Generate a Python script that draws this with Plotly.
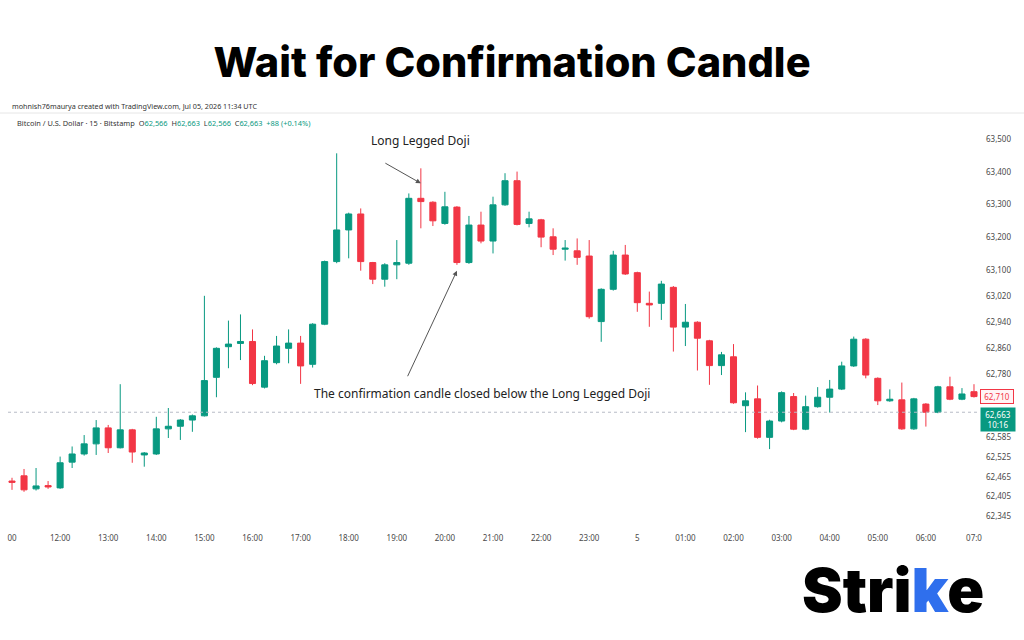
import plotly.graph_objects as go
import pandas as pd

# ---------------- data (BTC/USD 15-min, Bitstamp) ----------------
opens = [62452, 62468, 62428, 62438, 62431, 62510, 62535, 62566, 62615, 62554,
         62609, 62532, 62535, 62612, 62620, 62639, 62652, 62770, 62864, 62874,
         62880, 62740, 62815, 62859, 62875, 62810, 62933, 63125, 63222, 63271,
         63122, 63071, 63115, 63120, 63319, 63307, 63242, 63292, 63122, 63237,
         63188, 63299, 63373, 63242, 63253, 63201, 63163, 63158, 63142, 62941,
         63040, 63145, 63091, 62997, 62997, 63046, 62924, 62939, 62882, 62806,
         62833, 62683, 62704, 62586, 62636, 62711, 62611, 62680, 62709, 62734,
         62805, 62887, 62767, 62698, 62701, 62612, 62688, 62663, 62741, 62703,
         62726]
highs = [62462, 62489, 62492, 62452, 62527, 62558, 62593, 62639, 62624, 62749,
         62612, 62541, 62649, 62676, 62642, 62656, 63020, 62862, 62944, 62963,
         62917, 62836, 62897, 62917, 62897, 62936, 63128, 63457, 63275, 63288,
         63124, 63120, 63191, 63334, 63411, 63310, 63339, 63295, 63265, 63278,
         63324, 63396, 63401, 63278, 63256, 63227, 63191, 63196, 63191, 63043,
         63158, 63176, 63094, 63033, 63066, 63050, 62995, 62942, 62885, 62848,
         62872, 62724, 62745, 62640, 62727, 62722, 62714, 62740, 62762, 62818,
         62895, 62890, 62770, 62733, 62754, 62707, 62691, 62744, 62772, 62737,
         62749]
lows = [62425, 62419, 62423, 62428, 62428, 62492, 62530, 62532, 62538, 62552,
        62508, 62496, 62532, 62584, 62578, 62603, 62650, 62709, 62798, 62823,
        62746, 62736, 62810, 62813, 62750, 62800, 62930, 63120, 63135, 63097,
        63056, 63048, 63071, 63115, 63227, 63234, 63238, 63115, 63118, 63181,
        63150, 63296, 63236, 63230, 63169, 63145, 63128, 63115, 62950, 62879,
        63036, 63084, 62971, 62925, 62946, 62849, 62866, 62791, 62747, 62777,
        62689, 62602, 62582, 62550, 62632, 62608, 62608, 62677, 62662, 62731,
        62802, 62767, 62685, 62695, 62609, 62609, 62619, 62660, 62700, 62700,
        62708]
closes = [62448, 62425, 62437, 62434, 62508, 62535, 62566, 62615, 62554, 62609,
          62541, 62538, 62612, 62620, 62639, 62652, 62760, 62859, 62872, 62880,
          62751, 62821, 62866, 62875, 62805, 62933, 63125, 63222, 63271, 63125,
          63071, 63115, 63122, 63319, 63309, 63250, 63293, 63122, 63237, 63188,
          63299, 63373, 63239, 63256, 63200, 63163, 63166, 63138, 62956, 63040,
          63145, 63087, 62999, 62992, 63056, 62924, 62939, 62890, 62806, 62839,
          62692, 62698, 62586, 62636, 62723, 62611, 62680, 62709, 62734, 62805,
          62887, 62777, 62698, 62703, 62612, 62704, 62663, 62741, 62703, 62719,
          62711]
times = pd.date_range("2026-07-04 11:00", periods=len(opens), freq="15min")

tick_times = pd.date_range("2026-07-04 11:00", "2026-07-05 07:00", freq="1h")
tick_text = ["00", "12:00", "13:00", "14:00", "15:00", "16:00", "17:00", "18:00",
             "19:00", "20:00", "21:00", "22:00", "23:00", "5", "01:00", "02:00",
             "03:00", "04:00", "05:00", "06:00", "07:0"]

price_ticks = [63500, 63400, 63300, 63200, 63100, 63020, 62940, 62860, 62780,
               62585, 62525, 62465, 62405, 62345]
price_text = [f"{v:,}" for v in price_ticks]

last_price = 62710
current_price = 62663
countdown = "10:16"
doji_idx = 34
confirm_idx = 37

GREEN = "#089981"
RED = "#F23645"

# ---------------- layout helpers (pixel -> paper) ----------------
L, R, T, B = 8, 46, 130, 112
W, H = 1024, 640
PW, PH = W - L - R, H - T - B


def px(x):
    return (x - L) / PW


def py(y):
    return (H - B - y) / PH


fig = go.Figure()
fig.add_trace(go.Candlestick(
    x=times, open=opens, high=highs, low=lows, close=closes,
    increasing=dict(line=dict(color=GREEN, width=1), fillcolor=GREEN),
    decreasing=dict(line=dict(color=RED, width=1), fillcolor=RED),
    whiskerwidth=0, hoverinfo="skip", showlegend=False,
))

fig.update_layout(
    width=W, height=H, autosize=False,
    margin=dict(l=L, r=R, t=T, b=B),
    paper_bgcolor="white", plot_bgcolor="white",
    boxgap=0.28,
    showlegend=False,
    title=dict(text="Wait for Confirmation Candle", x=0.5, xref="container",
               xanchor="center", y=1 - 62 / H, yref="container", yanchor="middle",
               font=dict(family="Inter", size=41.5, color="#000000", weight=800)),
    xaxis=dict(type="date", range=["2026-07-04 10:55", "2026-07-05 07:05"],
               tickvals=tick_times, ticktext=tick_text, showgrid=False,
               zeroline=False, showline=False, ticks="", ticklabelstandoff=4,
               tickfont=dict(family="Noto Sans", size=8, color="#4a4a4a"),
               rangeslider=dict(visible=False), fixedrange=True),
    yaxis=dict(range=[62308, 63528.5], side="right", tickvals=price_ticks,
               ticktext=price_text, showgrid=False, zeroline=False,
               showline=False, ticks="", ticklabelstandoff=7,
               tickfont=dict(family="Noto Sans", size=8, color="#4a4a4a"),
               fixedrange=True),
)

# price line and panel separator
fig.add_shape(type="line", xref="paper", yref="y", x0=0, x1=1,
              y0=current_price, y1=current_price,
              line=dict(color="#b8bcc6", width=1, dash="dot"))
fig.add_shape(type="line", xref="paper", yref="paper", x0=px(0), x1=px(W),
              y0=py(113), y1=py(113), line=dict(color="#e6e6e6", width=1))

ann = []
# header texts
ann.append(dict(xref="paper", yref="paper", x=px(10), y=py(106), xanchor="left",
                yanchor="middle", showarrow=False,
                text="mohnish76maurya created with TradingView.com, Jul 05, 2026 11:34 UTC",
                font=dict(family="Noto Sans", size=7.2, color="#333333")))
g = lambda s: f"<span style='color:{GREEN}'>{s}</span>"
ann.append(dict(xref="paper", yref="paper", x=px(15), y=py(123), xanchor="left",
                yanchor="middle", showarrow=False,
                text=("Bitcoin / U.S. Dollar · 15 · Bitstamp  O" + g("62,566") +
                      "  H" + g("62,663") + "  L" + g("62,566") + "  C" + g("62,663") +
                      "  " + g("+88 (+0.14%)")),
                font=dict(family="Noto Sans", size=7.4, color="#333333")))

# price labels on the axis
ann.append(dict(xref="paper", yref="y", x=px(980), y=last_price, xanchor="left",
                yanchor="middle", showarrow=False, text=f"{last_price:,}",
                font=dict(family="Noto Sans", size=8, color=RED),
                bgcolor="#fff4f5", bordercolor=RED, borderwidth=1, borderpad=1,
                width=30))
ann.append(dict(xref="paper", yref="y", x=px(980), y=current_price, xanchor="left",
                yanchor="top", yshift=5, showarrow=False,
                text=f"{current_price:,}<br>{countdown}",
                font=dict(family="Noto Sans", size=8, color="white"),
                bgcolor=GREEN, borderpad=1, width=32))

# annotations with arrows
ann.append(dict(x=times[doji_idx], y=63495, xref="x", yref="y", showarrow=False,
                text="Long Legged Doji",
                font=dict(family="Noto Sans", size=12, color="#222222")))
ann.append(dict(x=times[doji_idx], y=63365, xref="x", yref="y", text="",
                showarrow=True, ax=-37, ay=-21, arrowhead=2, arrowsize=1,
                arrowwidth=1, arrowcolor="#555555"))
ann.append(dict(xref="paper", yref="y", x=px(482), y=62719, showarrow=False,
                text="The confirmation candle closed below the Long Legged Doji",
                font=dict(family="Noto Sans", size=12, color="#222222")))
ann.append(dict(x=times[confirm_idx], y=63097, xref="x", yref="y", text="",
                showarrow=True, ax=-50, ay=107, arrowhead=2, arrowsize=1,
                arrowwidth=1, arrowcolor="#555555"))

# brand logo
ann.append(dict(xref="paper", yref="paper", x=px(986), y=py(590), xanchor="right",
                yanchor="middle", showarrow=False,
                text="Stri<span style='color:#2f6fed'>k</span>e",
                font=dict(family="Inter", size=61, color="#000000", weight=900)))

fig.update_layout(annotations=ann)
fig.write_html("out.html")
